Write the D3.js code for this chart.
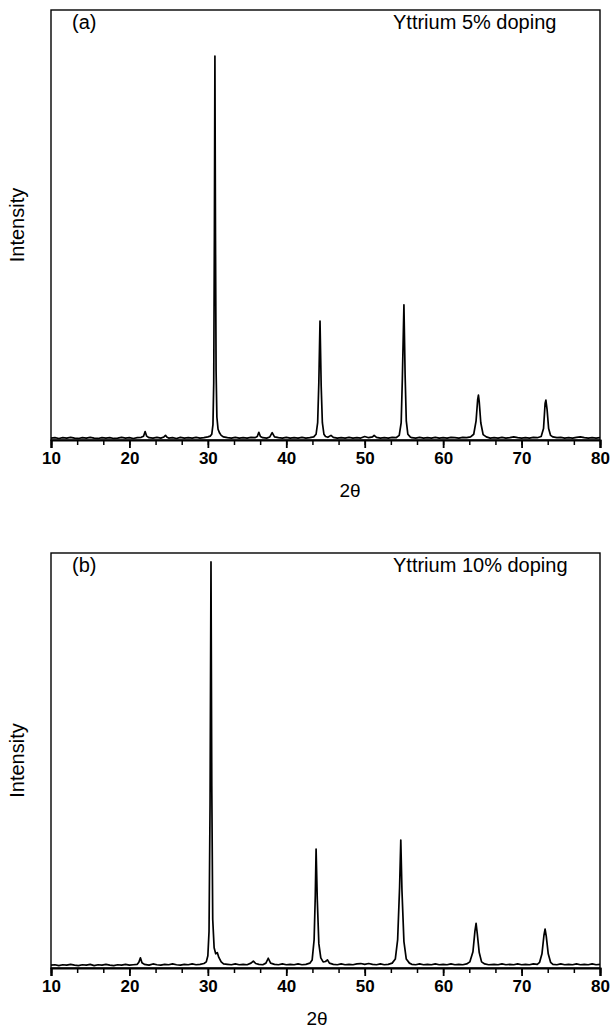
<!DOCTYPE html>
<html>
<head>
<meta charset="utf-8">
<script src="https://cdn.jsdelivr.net/npm/d3@7"></script>
<style>
  html, body { margin: 0; padding: 0; background: #fff; }
  svg { display: block; }
  text { font-family: "Liberation Sans", Arial, Helvetica, sans-serif; fill: #000; }
</style>
</head>
<body>
<svg id="chart" width="611" height="1030"></svg>
<script>
// XRD patterns, 2θ in degrees vs. intensity (arbitrary counts)
const xTicks = [10, 20, 30, 40, 50, 60, 70, 80];

// (a) Yttrium 5% doping
const patternA = [
  [10.0,5],[10.5,6],[11.0,4],[11.5,6],[12.0,5],[12.5,7],[13.0,5],[13.5,4],[14.0,6],[14.5,5],
  [15.0,7],[15.5,5],[16.0,4],[16.5,6],[17.0,5],[17.5,6],[18.0,4],[18.5,5],[19.0,7],[19.5,5],
  [20.0,6],[20.5,4],[21.0,6],[21.5,7],[21.8,10],[22.0,22],[22.2,10],[22.5,6],[23.0,5],[23.5,7],
  [24.0,5],[24.4,8],[24.6,12],[24.8,7],[25.0,5],[25.5,6],[26.0,4],[26.5,7],[27.0,5],[27.5,6],
  [28.0,5],[28.5,7],[29.0,5],[29.5,6],[30.0,8],[30.3,10],[30.5,15],[30.65,40],[30.75,150],
  [30.83,520],[30.9,1000],[30.97,540],[31.05,180],[31.15,60],[31.3,28],[31.5,18],[31.7,12],
  [32.0,8],[32.5,6],[33.0,5],[33.5,7],[34.0,5],[34.5,6],[35.0,5],[35.5,7],[36.0,6],[36.3,9],
  [36.5,20],[36.7,9],[37.0,6],[37.5,5],[37.9,8],[38.2,19],[38.5,8],[39.0,6],[39.5,5],[40.0,7],
  [40.5,5],[41.0,6],[41.5,5],[42.0,7],[42.5,5],[43.0,6],[43.5,8],[43.8,15],[44.0,45],[44.15,150],
  [44.3,310],[44.45,140],[44.6,45],[44.8,15],[45.0,9],[45.3,7],[45.7,12],[46.0,7],[46.5,5],
  [47.0,6],[47.5,5],[48.0,7],[48.5,5],[49.0,6],[49.5,5],[50.0,9],[50.5,6],[51.0,8],[51.2,12],
  [51.5,7],[52.0,5],[52.5,6],[53.0,5],[53.5,7],[54.0,6],[54.4,12],[54.65,45],[54.8,160],
  [55.0,352],[55.15,170],[55.3,50],[55.5,15],[55.8,8],[56.0,6],[56.5,5],[57.0,7],[57.5,5],
  [58.0,6],[58.5,5],[59.0,7],[59.5,5],[60.0,6],[60.5,5],[61.0,7],[61.5,6],[62.0,5],[62.5,7],
  [63.0,6],[63.5,8],[63.9,15],[64.2,50],[64.4,105],[64.5,117],[64.6,100],[64.8,45],[65.1,14],
  [65.5,8],[66.0,5],[66.5,6],[67.0,5],[67.5,7],[68.0,5],[68.5,6],[69.0,8],[69.5,6],[70.0,5],
  [70.5,6],[71.0,5],[71.5,7],[72.0,6],[72.5,9],[72.8,30],[73.0,95],[73.1,104],[73.25,80],
  [73.45,30],[73.7,12],[74.0,8],[74.5,6],[75.0,7],[75.5,5],[76.0,6],[76.5,5],[77.0,7],[77.5,8],
  [78.0,6],[78.5,5],[79.0,6],[79.5,5],[80.0,6]
];

// (b) Yttrium 10% doping
const patternB = [
  [10.0,7],[10.5,8],[11.0,6],[11.5,8],[12.0,7],[12.5,9],[13.0,7],[13.5,6],[14.0,8],[14.5,7],
  [15.0,9],[15.5,6],[16.0,8],[16.5,7],[17.0,9],[17.5,7],[18.0,6],[18.5,8],[19.0,7],[19.5,9],
  [20.0,7],[20.5,8],[21.0,9],[21.2,14],[21.4,25],[21.6,13],[21.9,9],[22.5,7],[23.0,10],[23.5,8],
  [24.0,7],[24.5,9],[25.0,8],[25.5,10],[26.0,8],[26.5,7],[27.0,9],[27.5,8],[28.0,10],[28.5,8],
  [29.0,9],[29.5,11],[29.8,15],[30.0,30],[30.15,90],[30.28,400],[30.4,1000],[30.5,450],
  [30.62,120],[30.8,50],[31.0,35],[31.2,38],[31.4,26],[31.7,15],[32.0,10],[32.5,9],[33.0,8],
  [33.5,10],[34.0,8],[34.5,9],[35.0,8],[35.5,12],[35.8,17],[36.1,11],[36.5,9],[37.0,8],
  [37.4,12],[37.7,24],[38.0,12],[38.5,9],[39.0,8],[39.5,10],[40.0,8],[40.5,9],[41.0,8],
  [41.5,10],[42.0,8],[42.5,9],[43.0,12],[43.3,20],[43.55,70],[43.7,180],[43.8,293],[43.95,170],
  [44.15,60],[44.4,25],[44.7,15],[45.0,16],[45.25,20],[45.5,12],[46.0,9],[46.5,8],[47.0,10],
  [47.5,8],[48.0,9],[48.5,8],[49.0,10],[49.5,11],[50.0,9],[50.5,11],[51.0,9],[51.5,8],[52.0,10],
  [52.5,8],[53.0,9],[53.5,12],[53.9,22],[54.2,70],[54.45,200],[54.6,315],[54.75,190],[55.0,65],
  [55.3,22],[55.7,12],[56.0,9],[56.5,8],[57.0,10],[57.5,8],[58.0,9],[58.5,8],[59.0,10],[59.5,8],
  [60.0,9],[60.5,8],[61.0,10],[61.5,8],[62.0,9],[62.5,8],[63.0,10],[63.4,15],[63.8,40],
  [64.05,90],[64.2,110],[64.35,85],[64.6,38],[64.9,15],[65.3,10],[65.8,8],[66.5,9],[67.0,8],
  [67.5,10],[68.0,8],[68.5,9],[69.0,8],[69.5,10],[70.0,8],[70.5,9],[71.0,8],[71.5,10],[72.0,9],
  [72.3,14],[72.6,35],[72.85,80],[73.0,96],[73.15,78],[73.4,35],[73.7,14],[74.0,9],[74.5,8],
  [75.0,10],[75.5,8],[76.0,9],[76.5,8],[77.0,10],[77.5,8],[78.0,9],[78.5,8],[79.0,10],[79.5,8],
  [80.0,9]
];

const panels = [
  { tag: "(a)", title: "Yttrium 5% doping",  data: patternA, yMax: 1120, top: 10,  bottom: 440, xTitleAt: 350 },
  { tag: "(b)", title: "Yttrium 10% doping", data: patternB, yMax: 1022, top: 553, bottom: 968, xTitleAt: 317 }
];

const left = 51, right = 600;
const svg = d3.select("#chart");

panels.forEach(p => {
  const g = svg.append("g");
  const x = d3.scaleLinear().domain([10, 80]).range([left, right]);
  const y = d3.scaleLinear().domain([0, p.yMax]).range([p.bottom, p.top]);

  // pattern trace
  g.append("path")
    .datum(p.data)
    .attr("fill", "none")
    .attr("stroke", "#000")
    .attr("stroke-width", 1.7)
    .attr("stroke-linejoin", "round")
    .attr("d", d3.line().x(d => x(d[0])).y(d => y(d[1])));

  // frame
  g.append("rect")
    .attr("x", left).attr("y", p.top)
    .attr("width", right - left).attr("height", p.bottom - p.top)
    .attr("fill", "none").attr("stroke", "#000").attr("stroke-width", 1.4);

  // minor ticks (every 10/3 degrees)
  const minor = d3.axisBottom(x)
    .tickValues(d3.range(0, 22).map(i => 10 + i * 10 / 3).filter(v => v <= 80.01))
    .tickSize(5).tickFormat("");
  g.append("g").attr("transform", `translate(0,${p.bottom})`).call(minor)
    .call(a => a.select(".domain").remove())
    .selectAll("line").attr("stroke-width", 1.5);

  // major ticks with labels
  const major = d3.axisBottom(x).tickValues(xTicks).tickSize(8).tickPadding(4)
    .tickFormat(d3.format("d"));
  const ax = g.append("g").attr("transform", `translate(0,${p.bottom})`).call(major);
  ax.select(".domain").attr("stroke-width", 2.2);
  ax.selectAll("line").attr("stroke-width", 1.8);
  ax.selectAll("text")
    .style("font-family", "'Liberation Sans', Arial, sans-serif")
    .style("font-size", "17px").style("font-weight", "bold");

  // axis titles
  g.append("text")
    .attr("x", p.xTitleAt).attr("y", p.bottom + 57)
    .attr("text-anchor", "middle").style("font-size", "19px")
    .text("2θ");
  g.append("text")
    .attr("transform", `translate(24,${(p.top + p.bottom) / 2}) rotate(-90)`)
    .attr("text-anchor", "middle").style("font-size", "20px")
    .text("Intensity");

  // panel tag and legend text
  g.append("text").attr("x", 72).attr("y", p.top + 19)
    .style("font-size", "20px").text(p.tag);
  g.append("text").attr("x", 393).attr("y", p.top + 19)
    .style("font-size", "20px").text(p.title);
});
</script>
</body>
</html>
